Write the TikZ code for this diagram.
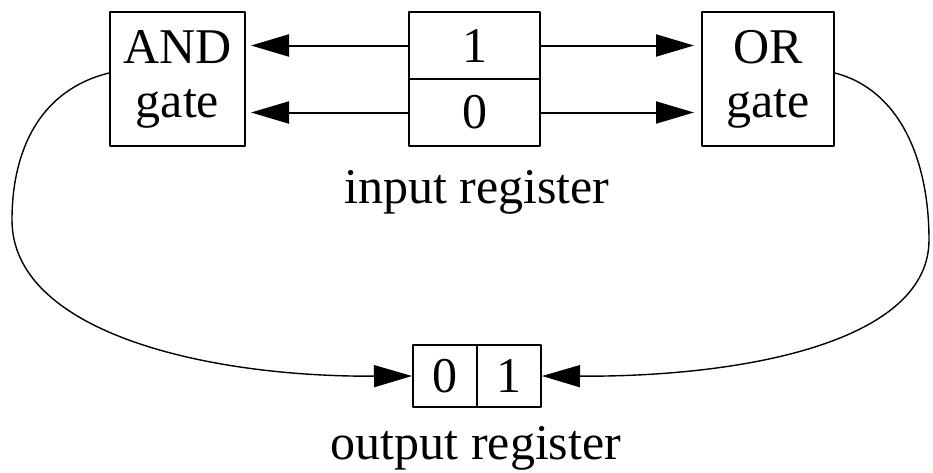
\documentclass[tikz,border=0pt]{standalone}
\usepackage{fontspec}
\setmainfont{Liberation Serif}
\usetikzlibrary{arrows.meta}
\begin{document}
\begin{tikzpicture}[x=0.5pt,y=-0.5pt,>={Triangle[length=19pt,width=11pt]}, font=\fontsize{25}{27}\selectfont, line join=round,
	box/.style={draw,line width=1pt,inner sep=0pt,align=center},
	cell/.style={box,minimum width=65.5pt,minimum height=33.5pt},
	bit/.style={box,minimum width=32pt,minimum height=31pt},
	arr/.style={->,line width=1pt},
	wire/.style={->,line width=0.7pt}]
	\useasboundingbox (0,0) rectangle (933,472);
	% gates
	\node[box,minimum width=67.5pt,minimum height=67pt] (and) at (177.5,79) {AND\\gate};
	\node[box,minimum width=66pt,minimum height=67pt] (or) at (768,79) {OR\\gate};
	% input register
	\node[cell] (in1) at (474.5,45.5) {1};
	\node[cell] (in0) at (474.5,112.5) {0};
	\node (inreg) at (477,192) {input register};
	% output register
	\node[bit] (out0) at (445,376) {0};
	\node[bit] (out1) at (509,376) {1};
	\node (outreg) at (476,448) {output register};
	% connectors
	\draw[arr,shorten >=2.5pt] (in1.west) -- (in1.west -| and.east);
	\draw[arr,shorten >=2.5pt] (in0.west) -- (in0.west -| and.east);
	\draw[arr,shorten >=3.5pt] (in1.east) -- (in1.east -| or.west);
	\draw[arr,shorten >=3.5pt] (in0.east) -- (in0.east -| or.west);
	\draw[wire] ([yshift=3pt]and.west) .. controls (40,90) and (12,150) .. (12,220) .. controls (12,330) and (200,377) .. (out0.west);
	\draw[wire] ([yshift=3pt]or.east) .. controls (900,90) and (929,160) .. (929,240) .. controls (929,340) and (750,377) .. (out1.east);
\end{tikzpicture}
\end{document}
